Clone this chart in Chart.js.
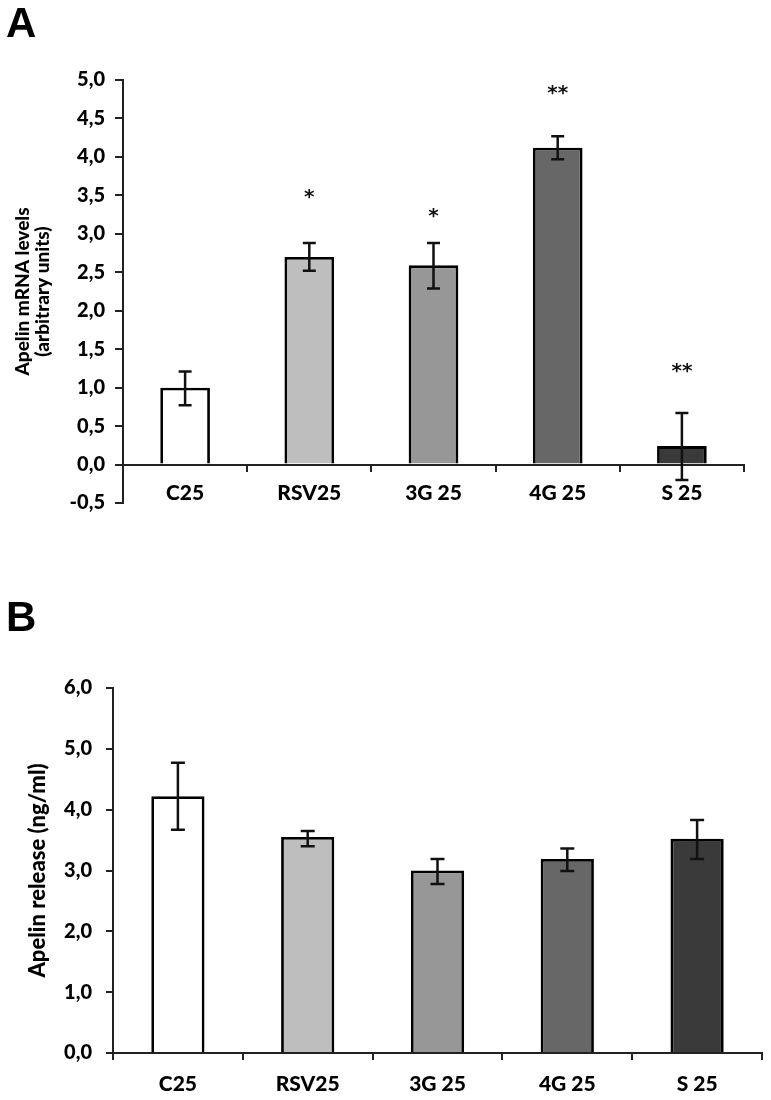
<!DOCTYPE html>
<html>
<head>
<meta charset="utf-8">
<script src="https://cdn.jsdelivr.net/npm/chart.js@4.4.0/dist/chart.umd.min.js"></script>
<style>
    body {
        margin: 0;
        background: #fff;
        width: 771px;
        height: 1100px;
        position: relative;
        overflow: hidden;
    }
    .letra {
        position: absolute;
        left: 6px;
        font-family: 'Liberation Sans', Arial, sans-serif;
        font-weight: bold;
        font-size: 42px;
        line-height: 1;
        color: #000;
    }
    .caja {
        position: absolute;
        left: 0;
        width: 771px;
        height: 540px;
    }
</style>
</head>
<body>
<div class="caja" style="top:0"><canvas id="graficoA" width="771" height="540"></canvas></div>
<div class="caja" style="top:560px"><canvas id="graficoB" width="771" height="540"></canvas></div>
<div class="letra" style="top:2px">A</div>
<div class="letra" style="top:596px">B</div>

<script>
const categorias = ['C25', 'RSV25', '3G 25', '4G 25', 'S 25'];
const coloresBarras = ['#ffffff', '#bebebe', '#979797', '#676767', '#3a3a3a'];

// panel A: mRNA
const mrnaValores = [1.00, 2.70, 2.59, 4.12, 0.24];
const mrnaErrorAlto = [1.21, 2.88, 2.88, 4.27, 0.67];
const mrnaErrorBajo = [0.77, 2.52, 2.29, 3.97, -0.20];
const mrnaSignificancia = ['', '*', '*', '**', '**'];
const mrnaNivelSignificancia = [null, 3.52, 3.27, 4.87, 1.25];

// panel B: release
const liberacionValores = [4.22, 3.55, 3.00, 3.19, 3.52];
const liberacionErrorAlto = [4.77, 3.65, 3.19, 3.36, 3.83];
const liberacionErrorBajo = [3.67, 3.40, 2.78, 2.99, 3.19];

Chart.defaults.font.family = 'Lato';
Chart.defaults.font.weight = '900';
Chart.defaults.color = '#000';

const barrasError = {
    id: 'barrasError',
    afterDatasetsDraw(chart, args, opts) {
        const ctx = chart.ctx;
        const y = chart.scales.y;
        const meta = chart.getDatasetMeta(0);
        ctx.save();
        ctx.strokeStyle = '#111';
        ctx.fillStyle = '#111';
        ctx.lineWidth = 2.5;
        meta.data.forEach((barra, i) => {
            const x = barra.x;
            const arriba = y.getPixelForValue(opts.alto[i]);
            const abajo = y.getPixelForValue(opts.bajo[i]);
            ctx.beginPath();
            ctx.moveTo(x, arriba);
            ctx.lineTo(x, abajo);
            ctx.moveTo(x - opts.tapa, arriba);
            ctx.lineTo(x + opts.tapa, arriba);
            ctx.moveTo(x - opts.tapa, abajo);
            ctx.lineTo(x + opts.tapa, abajo);
            ctx.stroke();
            if (opts.marcas && opts.marcas[i]) {
                ctx.font = 'bold 20px "DejaVu Sans"';
                ctx.textAlign = 'center';
                ctx.textBaseline = 'alphabetic';
                ctx.fillText(opts.marcas[i], x, y.getPixelForValue(opts.nivel[i]) + 9);
            }
        });
        ctx.restore();
    }
};

function formatoComa(v) {
    return v.toFixed(1).replace('.', ',');
}

// panel A
new Chart(document.getElementById('graficoA'), {
    type: 'bar',
    data: {
        labels: categorias,
        datasets: [{
            data: mrnaValores,
            backgroundColor: coloresBarras,
            borderColor: '#000',
            borderWidth: 2.8,
            categoryPercentage: 1,
            barPercentage: 0.4
        }]
    },
    options: {
        responsive: false,
        animation: false,
        layout: {padding: {top: 80, right: 27, bottom: 37, left: 0}},
        plugins: {
            legend: {display: false},
            tooltip: {enabled: false},
            barrasError: {
                alto: mrnaErrorAlto, bajo: mrnaErrorBajo, tapa: 6.5,
                marcas: mrnaSignificancia, nivel: mrnaNivelSignificancia
            }
        },
        scales: {
            x: {
                position: {y: 0},
                afterFit: (s) => { s.height = 0; },
                grid: {drawOnChartArea: false, offset: true, tickLength: 6, color: '#222', lineWidth: 2},
                border: {color: '#222', width: 2},
                ticks: {font: {size: 21}, padding: 10}
            },
            y: {
                min: -0.5,
                max: 5,
                afterFit: (s) => { s.width = 123; },
                grid: {drawOnChartArea: false, tickLength: 8, color: '#222', lineWidth: 2},
                border: {color: '#222', width: 2},
                ticks: {stepSize: 0.5, padding: 10, font: {size: 20}, callback: formatoComa},
                title: {
                    display: true,
                    text: ['Apelin mRNA levels', '(arbitrary units)'],
                    font: {size: 19, lineHeight: 1.1},
                    padding: {top: 12, bottom: 0}
                }
            }
        }
    },
    plugins: [barrasError]
});

// panel B
new Chart(document.getElementById('graficoB'), {
    type: 'bar',
    data: {
        labels: categorias,
        datasets: [{
            data: liberacionValores,
            backgroundColor: coloresBarras,
            borderColor: '#000',
            borderWidth: 2.8,
            categoryPercentage: 1,
            barPercentage: 0.41
        }]
    },
    options: {
        responsive: false,
        animation: false,
        layout: {padding: {top: 128, right: 9, bottom: 0, left: 0}},
        plugins: {
            legend: {display: false},
            tooltip: {enabled: false},
            barrasError: {alto: liberacionErrorAlto, bajo: liberacionErrorBajo, tapa: 7}
        },
        scales: {
            x: {
                afterFit: (s) => { s.height = 47; },
                grid: {drawOnChartArea: false, offset: true, tickLength: 7, color: '#222', lineWidth: 2},
                border: {color: '#222', width: 2},
                ticks: {font: {size: 21}, padding: 12}
            },
            y: {
                min: 0,
                max: 6,
                afterFit: (s) => { s.width = 113; },
                grid: {drawOnChartArea: false, tickLength: 7, color: '#222', lineWidth: 2},
                border: {color: '#222', width: 2},
                ticks: {stepSize: 1, padding: 14, font: {size: 20}, callback: formatoComa},
                title: {
                    display: true,
                    text: 'Apelin release (ng/ml)',
                    font: {size: 22},
                    padding: {top: 25, bottom: 0}
                }
            }
        }
    },
    plugins: [barrasError]
});
</script>
</body>
</html>
